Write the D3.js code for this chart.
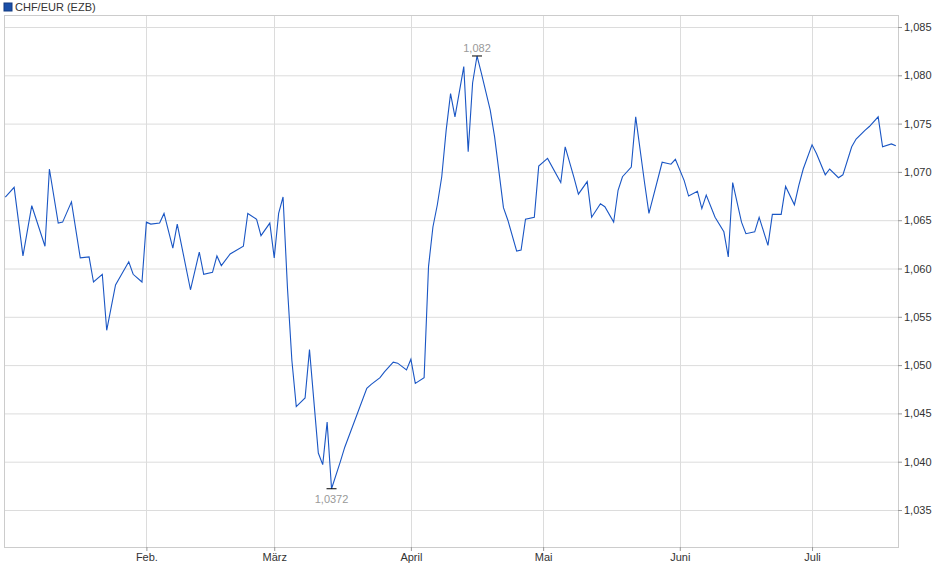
<!DOCTYPE html>
<html><head><meta charset="utf-8">
<script src="https://cdn.jsdelivr.net/npm/d3@7"></script>
<style>body{margin:0;background:#fff}svg{font-family:"Liberation Sans",Arial,sans-serif}</style>
</head><body><svg id="c" width="940" height="579"></svg>
<script>
// day of year 2024 (0 = 1 Jan)
const days = [-1,1,3,5,8,9,11,12,14,16,18,19,21,22,24,27,28,30,31,32,34,35,37,38,41,43,44,46,47,48,50,53,54,56,57,59,60,61,62,63,64,65,67,68,70,71,72,73,75,76,81,82,84,85,87,88,90,91,92,94,95,96,97,98,99,100,101,103,104,105,106,107,109,110,112,113,115,116,117,119,120,122,125,126,128,129,131,132,134,135,137,138,139,141,142,144,145,148,150,151,153,154,156,157,158,160,162,163,164,166,167,169,170,172,173,175,176,178,179,180,182,183,185,186,188,189,191,192,194,195,197,198,200,201];
const values = [1.0674,1.0684,1.0613,1.0665,1.0623,1.0703,1.0647,1.0648,1.0669,1.0611,1.0612,1.0586,1.0594,1.0536,1.0583,1.0607,1.0594,1.0586,1.0648,1.0646,1.0647,1.0657,1.0621,1.0646,1.0578,1.0617,1.0594,1.0596,1.0613,1.0603,1.0615,1.0623,1.0657,1.0651,1.0634,1.0647,1.0611,1.0657,1.0674,1.0580,1.0505,1.0457,1.0466,1.0516,1.0409,1.0397,1.0441,1.0372,1.0400,1.0415,1.0476,1.0480,1.0487,1.0493,1.0503,1.0502,1.0495,1.0506,1.0481,1.0487,1.0602,1.0643,1.0666,1.0695,1.0743,1.0781,1.0757,1.0809,1.0721,1.0792,1.0820,1.0802,1.0764,1.0736,1.0663,1.0650,1.0618,1.0619,1.0651,1.0653,1.0706,1.0714,1.0689,1.0726,1.0694,1.0677,1.0690,1.0653,1.0667,1.0664,1.0648,1.0681,1.0695,1.0705,1.0757,1.0689,1.0657,1.0710,1.0708,1.0713,1.0691,1.0675,1.0680,1.0662,1.0676,1.0653,1.0638,1.0612,1.0689,1.0648,1.0636,1.0638,1.0653,1.0624,1.0656,1.0656,1.0685,1.0666,1.0686,1.0703,1.0728,1.0719,1.0697,1.0703,1.0694,1.0697,1.0726,1.0734,1.0743,1.0747,1.0757,1.0726,1.0729,1.0727];
const monthDays = [31,60,91,121,152,182];
const monthLabels = ["Feb.","März","April","Mai","Juni","Juli"];
const yTicks = [1.035,1.040,1.045,1.050,1.055,1.060,1.065,1.070,1.075,1.080,1.085];
const seriesName = "CHF/EUR (EZB)";

const svg = d3.select("#c");
const L=4,R=898,T=15,B=547;
const x = d3.scaleLinear().domain([-1.3,201.5]).range([L,R]);
const y = d3.scaleLinear().domain([1.035,1.085]).range([510,27]);
const fmt = v => d3.format(".3f")(v).replace(".",",");

const g = svg.append("g");
g.selectAll(".hy").data(yTicks).join("line").attr("x1",L).attr("x2",R)
 .attr("y1",d=>y(d)+0.5).attr("y2",d=>y(d)+0.5).attr("stroke","#dcdcdc");
g.selectAll(".vx").data(monthDays).join("line").attr("y1",T).attr("y2",B)
 .attr("x1",d=>Math.round(x(d))+0.5).attr("x2",d=>Math.round(x(d))+0.5).attr("stroke","#dcdcdc");
svg.append("rect").attr("x",L+0.5).attr("y",T+0.5).attr("width",R-L).attr("height",B-T)
 .attr("fill","none").attr("stroke","#cccccc");

const ya = svg.append("g").attr("transform",`translate(${R},0)`)
 .call(d3.axisRight(y).tickValues(yTicks).tickFormat(fmt).tickSize(4));
ya.select(".domain").remove();
ya.selectAll("line").attr("stroke","#999");
ya.selectAll("text").attr("font-size",11).attr("fill","#333").attr("x",6);

const xa = svg.append("g").attr("transform",`translate(0,${B})`)
 .call(d3.axisBottom(x).tickValues(monthDays).tickFormat((d,i)=>monthLabels[i]).tickSize(4));
xa.select(".domain").remove();
xa.selectAll("line").attr("stroke","#999");
xa.selectAll("text").attr("font-size",11).attr("fill","#333").attr("y",6);

const data = days.map((d,i)=>({d,v:values[i]}));
svg.append("path").datum(data).attr("fill","none").attr("stroke","#1a56c4").attr("stroke-width",1.1)
 .attr("d",d3.line().x(p=>x(p.d)).y(p=>y(p.v)));

const iMax = d3.maxIndex(values), iMin = d3.minIndex(values);
[[iMax,-1,"1,082"],[iMin,1,"1,0372"]].forEach(([i,dir,lab])=>{
  const px=x(days[i]), py=y(values[i]);
  svg.append("line").attr("x1",px-5).attr("x2",px+5).attr("y1",py).attr("y2",py).attr("stroke","#000");
  svg.append("text").attr("x",px).attr("y",dir<0?py-4:py+14).attr("text-anchor","middle")
   .attr("font-size",11).attr("fill","#999").text(lab);
});

svg.append("rect").attr("x",4).attr("y",3).attr("width",8).attr("height",8).attr("fill","#1a4fa8").attr("stroke","#123a80");
svg.append("text").attr("x",15).attr("y",11).attr("font-size",11).attr("fill","#333").text(seriesName);
</script></body></html>
